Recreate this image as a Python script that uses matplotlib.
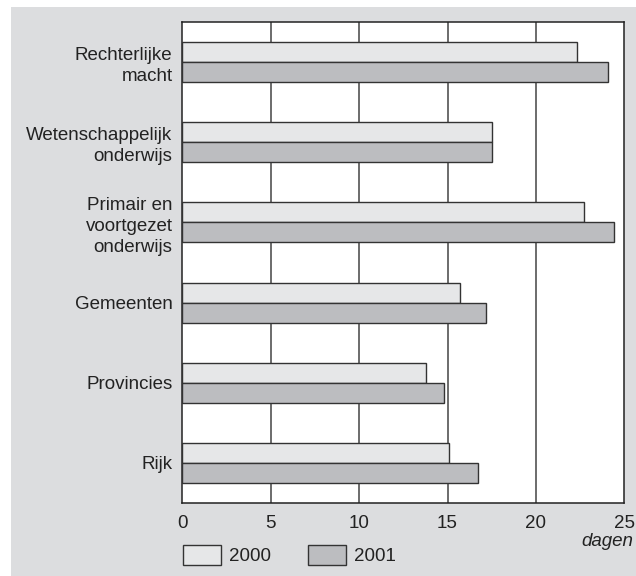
import numpy as np
import matplotlib.pyplot as plt
from matplotlib.patches import Rectangle

plt.rcParams['font.family'] = ['Liberation Sans', 'DejaVu Sans']

categories = ["Rechterlijke\nmacht", "Wetenschappelijk\nonderwijs",
              "Primair en\nvoortgezet\nonderwijs", "Gemeenten",
              "Provincies", "Rijk"]
jaar_2000 = [22.3, 17.5, 22.7, 15.7, 13.8, 15.1]
jaar_2001 = [24.1, 17.5, 24.4, 17.2, 14.8, 16.7]
xticks = [0, 5, 10, 15, 20, 25]

fs = 13.5

fig = plt.figure(figsize=(6.36, 5.76), dpi=100)
fig.patch.set_facecolor('white')
# grey panel behind the chart
fig.patches.append(Rectangle((11 / 636, 0), 1 - 11 / 636, 1 - 7 / 576,
                             transform=fig.transFigure, facecolor='#dcdddf',
                             edgecolor='none', zorder=-5))

ax = fig.add_axes([182.3 / 636, 1 - 502.7 / 576, 442 / 636, 480.4 / 576])
ax.set_facecolor('white')

y = np.arange(len(categories))[::-1]
h = 0.25
b1 = ax.barh(y + h / 2, jaar_2000, height=h, color='#e6e7e8',
             edgecolor='#333333', linewidth=1, label='2000', zorder=3)
b2 = ax.barh(y - h / 2, jaar_2001, height=h, color='#bcbdc0',
             edgecolor='#333333', linewidth=1, label='2001', zorder=3)

ax.set_xlim(0, 25)
ax.set_ylim(-0.5, len(categories) - 0.5)
ax.set_xticks(xticks)
ax.set_yticks(y)
ax.set_yticklabels(categories, linespacing=1.3)
ax.tick_params(axis='both', length=0, labelsize=fs, colors='#222222')
ax.tick_params(axis='x', pad=9)
ax.tick_params(axis='y', pad=7)
for t in ax.get_yticklabels():
    t.set_horizontalalignment('right')
    t.set_multialignment('right')

for xv in xticks[1:-1]:
    ax.axvline(xv, color='#444444', linewidth=1.1, zorder=1)
for s in ax.spines.values():
    s.set_color('#222222')
    s.set_linewidth(1.1)

fig.text(633 / 636, 1 - 542 / 576, 'dagen', ha='right', va='center',
         fontsize=fs, style='italic', color='#222222')

leg = fig.legend(handles=[b1, b2], labels=['2000', '2001'], ncol=2,
                 loc='upper left', bbox_to_anchor=(182.7 / 636, 1 - 545 / 576),
                 frameon=False, fontsize=fs, handlelength=2.03,
                 handleheight=1.23, handletextpad=0.43, columnspacing=2.0,
                 borderpad=0, borderaxespad=0)
for t in leg.get_texts():
    t.set_color('#222222')

fig.savefig('out.png', dpi=100)
